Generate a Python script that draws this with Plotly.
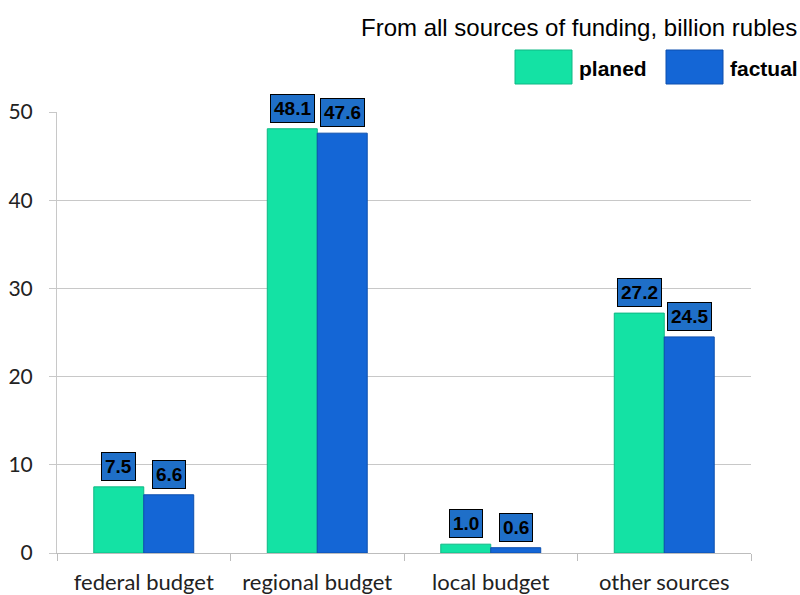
import plotly.graph_objects as go

# Funding by source, billion rubles
categories = ["federal budget", "regional budget", "local budget", "other sources"]
planned = [7.5, 48.1, 1.0, 27.2]
actual = [6.6, 47.6, 0.6, 24.5]
series_names = ["planed", "factual"]
y_ticks = [0, 10, 20, 30, 40, 50]
title_text = "From all sources of funding, billion rubles"

GREEN = "#14e2a4"
BLUE = "#1466d6"
LABEL_BG = "#1f6fc8"
BAR_GAP = 0.424

W, H = 800, 595
M_L, M_R, M_T, M_B = 57, 49, 112, 42
PW, PH = W - M_L - M_R, H - M_T - M_B


def px_x(p):
    return (p - M_L) / PW


def px_y(p):
    return (H - M_B - p) / PH


fig = go.Figure()
fig.add_trace(go.Bar(x=categories, y=planned, name=series_names[0],
                     marker=dict(color=GREEN, line=dict(color="#0fb884", width=1))))
fig.add_trace(go.Bar(x=categories, y=actual, name=series_names[1],
                     marker=dict(color=BLUE, line=dict(color="#0d4fae", width=1))))

# value boxes above each bar
half = (1 - BAR_GAP) / 4
for series, offset in ((planned, -half), (actual, half)):
    for i, v in enumerate(series):
        fig.add_annotation(
            x=i + offset, y=v, xref="x", yref="y",
            text=f"<b>{v:.1f}</b>", showarrow=False,
            yanchor="bottom", yshift=6,
            font=dict(family="Arial, Liberation Sans", size=19, color="black"),
            bgcolor=LABEL_BG, bordercolor="black", borderwidth=1, borderpad=3,
        )

# heading and legend at top right
fig.add_annotation(
    x=px_x(799), y=px_y(27), xref="paper", yref="paper",
    text=title_text, showarrow=False, xanchor="right", yanchor="middle",
    font=dict(family="Arial, Liberation Sans", size=24, color="black"),
)
legend_items = [(series_names[0], GREEN, "#0fb884", 515), (series_names[1], BLUE, "#0d4fae", 666)]
for name, fill, edge, x0 in legend_items:
    fig.add_shape(type="rect", xref="paper", yref="paper",
                  x0=px_x(x0), x1=px_x(x0 + 57), y0=px_y(84), y1=px_y(50),
                  fillcolor=fill, line=dict(color=edge, width=1))
    fig.add_annotation(
        x=px_x(x0 + 62), y=px_y(68), xref="paper", yref="paper",
        text=f"<b>{name}</b>", showarrow=False, xanchor="left", yanchor="middle",
        font=dict(family="Arial, Liberation Sans", size=21, color="black"),
    )

fig.update_layout(
    width=W, height=H,
    margin=dict(l=M_L, r=M_R, t=M_T, b=M_B, pad=0),
    paper_bgcolor="white", plot_bgcolor="white",
    barmode="group", bargap=BAR_GAP, bargroupgap=0,
    showlegend=False,
    font=dict(family="Lato, Open Sans, sans-serif", color="#222"),
)
fig.update_xaxes(
    type="category", tickson="boundaries", ticks="outside", ticklen=7,
    tickcolor="#bdbdbd", showline=True, linecolor="#bdbdbd", linewidth=1,
    showgrid=False, tickfont=dict(size=22, color="#222"), ticklabelstandoff=10,
    automargin=False,
)
fig.update_yaxes(
    range=[0, 50], tickvals=y_ticks, ticks="outside", ticklen=7,
    tickcolor="#c8c8c8", showline=True, linecolor="#c8c8c8", linewidth=1,
    showgrid=True, gridcolor="#c8c8c8", gridwidth=1, zeroline=False,
    tickfont=dict(size=21, color="#222"), ticklabelstandoff=12,
    automargin=False,
)

fig.write_html("out.html")
